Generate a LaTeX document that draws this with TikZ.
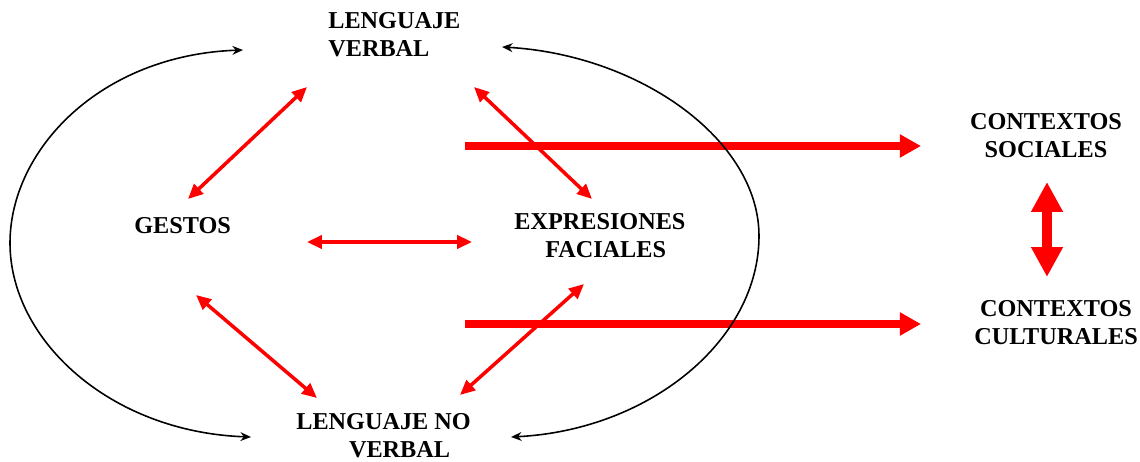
\documentclass[tikz,border=0pt]{standalone}
\usepackage{fontspec}
\setmainfont{Liberation Serif}
\usetikzlibrary{arrows.meta}
\begin{document}
\begin{tikzpicture}[x=0.02cm,y=-0.02cm,
  lbl/.style={font=\fontsize{13.8}{16}\selectfont\bfseries, inner sep=0pt, align=left, anchor=north west, text=black},
  redlink/.style={draw=red, line width=2pt, arrows={Triangle[length=8.5pt,width=7.5pt]-Triangle[length=8.5pt,width=7.5pt]}},
  bigarrow/.style={draw=red, line width=4.6pt, arrows={-Triangle[length=12pt,width=12.5pt]}},
  vertarrow/.style={draw=red, line width=5.7pt, arrows={Triangle[length=17pt,width=17pt]-Triangle[length=17pt,width=17pt]}},
  loopline/.style={draw=black, line width=0.9pt, arrows={Stealth[length=6pt,width=5pt]-Stealth[length=6pt,width=5pt]}}
]
\useasboundingbox (0,0) rectangle (1140,462);

% text nodes
\node[lbl] (lv) at (328,12) {LENGUAJE\\VERBAL};
\node[lbl] (ges) at (134,217) {GESTOS};
\node[lbl] (ef) at (514,213) {EXPRESIONES\\\hspace*{17.6pt}FACIALES};
\node[lbl] (lnv) at (296,413) {LENGUAJE NO\\\hspace*{30pt}VERBAL};
\node[lbl, align=center, anchor=north] (cs) at (1046,113) {CONTEXTOS\\SOCIALES};
\node[lbl, align=center, anchor=north] (cc) at (1056,300) {CONTEXTOS\\CULTURALES};

% arrow end points
\coordinate (lvL) at (307,87);
\coordinate (gU) at (188,199);
\coordinate (lvR) at (474,87);
\coordinate (efU) at (592,199);
\coordinate (gR) at (307,242);
\coordinate (efL) at (472,242);
\coordinate (gD) at (196,295);
\coordinate (lnvL) at (317,398);
\coordinate (efD) at (584,284);
\coordinate (lnvR) at (460,395);
\coordinate (s1) at (465,146);
\coordinate (csW) at (921,146);
\coordinate (s2) at (465,324);
\coordinate (ccW) at (921,324);
\coordinate (csS) at (1047,182);
\coordinate (ccN) at (1047,277);
\coordinate (lvW) at (243,50);
\coordinate (lnvW) at (251,437);
\coordinate (lvE) at (502,47);
\coordinate (lnvE) at (511,437);

% thin red links
\draw[redlink] (lvL) -- (gU);
\draw[redlink] (lvR) -- (efU);
\draw[redlink] (gR) -- (efL);
\draw[redlink] (gD) -- (lnvL);
\draw[redlink] (efD) -- (lnvR);

% thick arrows
\draw[bigarrow] (s1) -- (csW);
\draw[bigarrow] (s2) -- (ccW);
\draw[vertarrow] (csS) -- (ccN);

% loops
\draw[loopline] (lvW) .. controls (100,55) and (10,150) .. (10,243) .. controls (10,340) and (110,432) .. (lnvW);
\draw[loopline] (lvE) .. controls (640,55) and (759,140) .. (759,236) .. controls (759,340) and (650,430) .. (lnvE);
\end{tikzpicture}
\end{document}
